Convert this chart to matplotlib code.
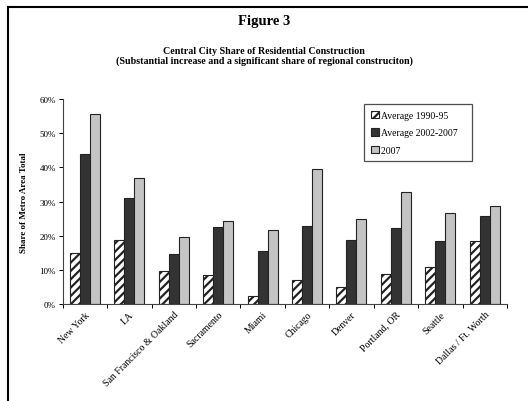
import matplotlib
matplotlib.use("Agg")
import matplotlib.pyplot as plt
from matplotlib.lines import Line2D
import numpy as np

cities = ["New York", "LA", "San Francisco & Oakland", "Sacramento", "Miami",
          "Chicago", "Denver", "Portland, OR", "Seattle", "Dallas / Ft. Worth"]
avg_1990_95 = [15.0, 18.8, 9.7, 8.5, 2.3, 6.9, 4.9, 8.8, 10.7, 18.3]
avg_2002_07 = [43.8, 30.9, 14.6, 22.4, 15.4, 22.7, 18.8, 22.3, 18.3, 25.7]
yr_2007 = [55.5, 36.8, 19.6, 24.4, 21.6, 39.6, 24.9, 32.9, 26.5, 28.6]
series_labels = ["Average 1990-95", "Average 2002-2007", "2007"]
y_ticks = [0, 10, 20, 30, 40, 50, 60]

plt.rcParams["font.family"] = ["Liberation Serif", "DejaVu Serif"]
plt.rcParams["hatch.linewidth"] = 1.6

fig = plt.figure(figsize=(5.28, 4.02), dpi=100)
ax = fig.add_axes([62.7 / 528, 1 - 305 / 402, (507 - 62.7) / 528, 205 / 402])

x = np.arange(len(cities))
w = 0.225
ax.bar(x - w, avg_1990_95, w, color="white", edgecolor="#222222", hatch="////",
       linewidth=0.8, label=series_labels[0])
ax.bar(x, avg_2002_07, w, color="#333333", edgecolor="#222222", linewidth=0.8,
       label=series_labels[1])
ax.bar(x + w, yr_2007, w, color="#c4c4c4", edgecolor="#222222", linewidth=0.8,
       label=series_labels[2])

ax.set_xlim(-0.5, len(cities) - 0.5)
ax.set_ylim(0, 60)
ax.set_yticks(y_ticks)
ax.set_yticklabels([f"{t}%" for t in y_ticks], fontsize=6.5)
ax.set_xticks(np.arange(len(cities) + 1) - 0.5, minor=False)
ax.set_xticklabels([])
ax.set_xticks(x, minor=True)
ax.set_xticklabels(cities, minor=True, rotation=45, ha="right",
                   rotation_mode="anchor", fontsize=7)
ax.tick_params(axis="x", which="major", length=3, width=0.7, direction="out")
ax.tick_params(axis="x", which="minor", length=0, pad=4)
ax.tick_params(axis="y", length=3, width=0.7, pad=2)
for s in ["top", "right"]:
    ax.spines[s].set_visible(False)
for s in ["left", "bottom"]:
    ax.spines[s].set_linewidth(0.8)
    ax.spines[s].set_color("#444444")

ax.set_ylabel("Share of Metro Area Total", fontsize=6.5, fontweight="bold",
              labelpad=8)

leg = ax.legend(loc="upper left",
                bbox_to_anchor=((364 - 62.7) / 444.3, 1 - (105 - 100) / 205),
                fontsize=7, frameon=True, fancybox=False, edgecolor="#222222",
                handlelength=0.8, handleheight=0.8, handletextpad=0.25,
                labelspacing=0.85, borderpad=0.7, borderaxespad=0)
leg.get_frame().set_linewidth(0.9)
for t in leg.get_texts():
    t.set_text(t.get_text() + "   ")

fig.text(0.5, 1 - 22 / 402, "Figure 3", ha="center", va="center",
         fontsize=10.5, fontweight="bold")
fig.text(0.5, 1 - 51 / 402, "Central City Share of Residential Construction",
         ha="center", va="center", fontsize=7.2, fontweight="bold")
fig.text(0.5, 1 - 61.5 / 402,
         "(Substantial increase and a significant share of regional construciton)",
         ha="center", va="center", fontsize=7.2, fontweight="bold")

# frame lines along top and left edges
fig.add_artist(Line2D([8 / 528, 1], [1 - 8 / 402, 1 - 8 / 402],
                      transform=fig.transFigure, color="black", linewidth=1.5))
fig.add_artist(Line2D([8 / 528, 8 / 528], [0, 1 - 8 / 402],
                      transform=fig.transFigure, color="black", linewidth=1.5))

fig.savefig("out.png", dpi=100)
